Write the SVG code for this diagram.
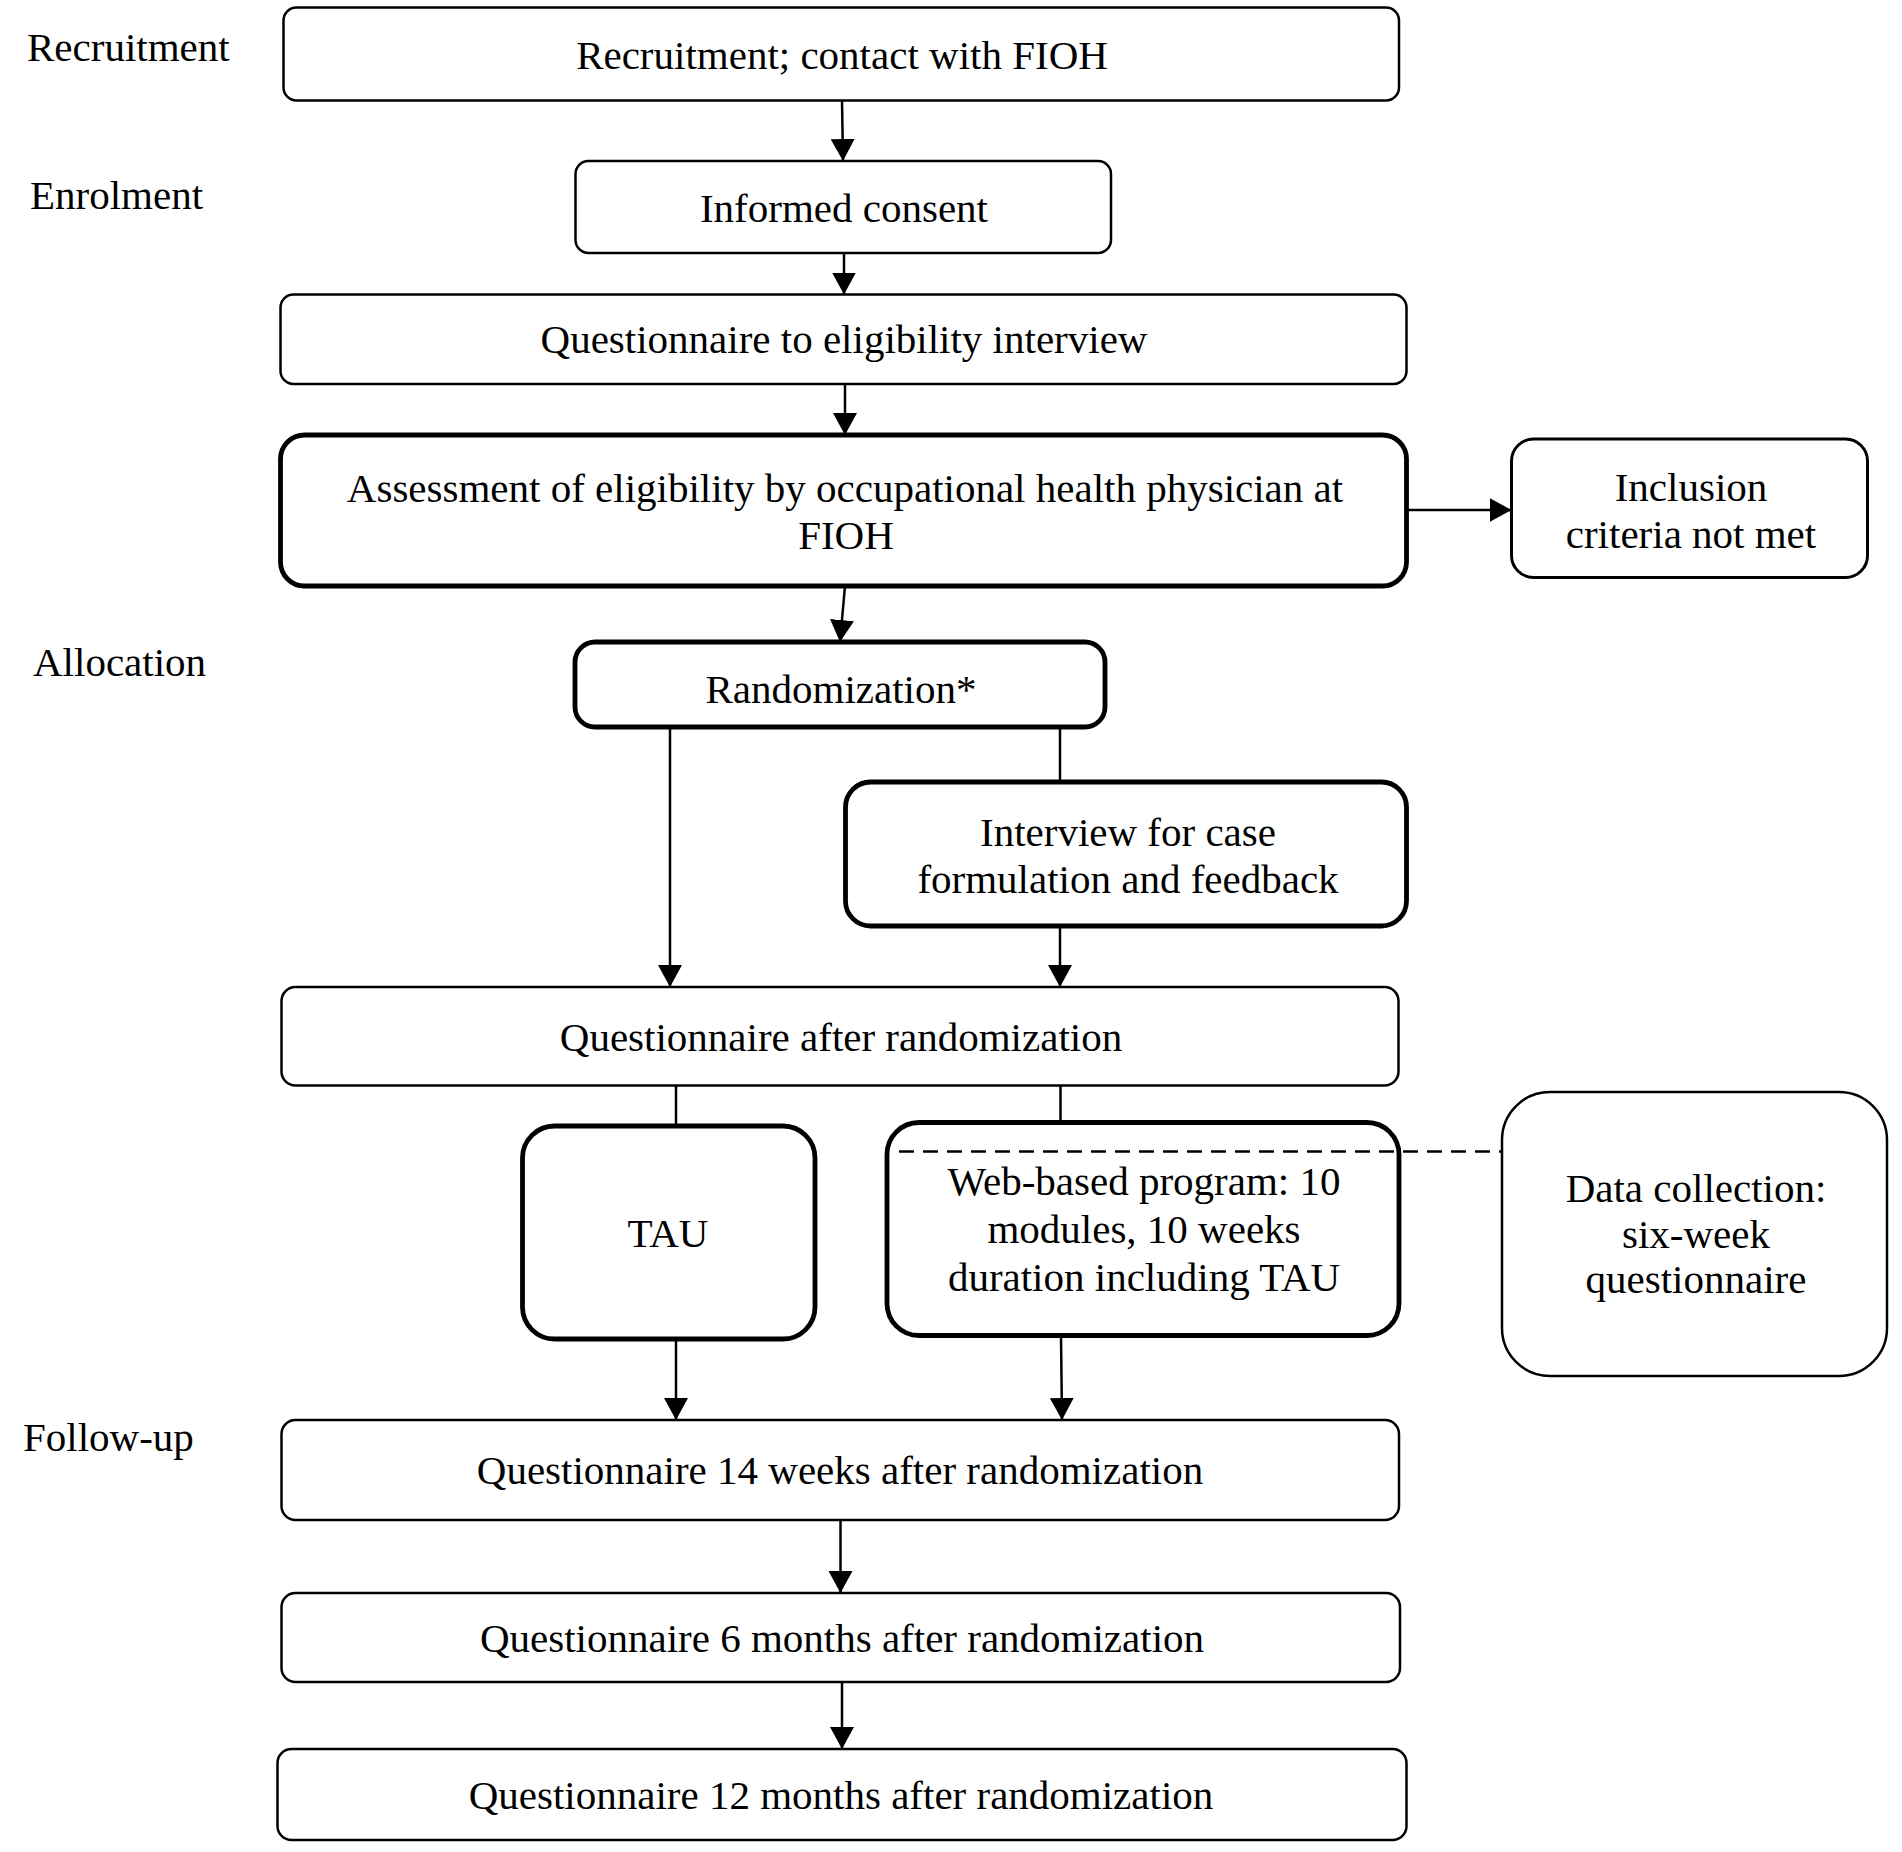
<svg xmlns="http://www.w3.org/2000/svg" width="1902" height="1852" viewBox="0 0 1902 1852">
<defs>
<marker id="arr" markerUnits="userSpaceOnUse" markerWidth="24" markerHeight="24" refX="22" refY="12" orient="auto">
<path d="M0,0 L22,12 L0,24 Z" fill="#000"/>
</marker>
<style>
.box{fill:#fff;stroke:#000;stroke-width:2.5}
.thick{fill:#fff;stroke:#000;stroke-width:4.8}
.t{font-family:"Liberation Serif","Times New Roman",serif;font-size:41px;fill:#000;text-anchor:middle}
.lab{font-family:"Liberation Serif","Times New Roman",serif;font-size:41px;fill:#000}
.c{fill:none;stroke:#000;stroke-width:2.5}
.arr{marker-end:url(#arr)}
.dash{fill:none;stroke:#000;stroke-width:2.5;stroke-dasharray:15 9}
</style>
</defs>
<rect width="1902" height="1852" fill="#fff"/>
<g id="labels">
<text class="lab" x="27" y="61">Recruitment</text>
<text class="lab" x="30" y="209">Enrolment</text>
<text class="lab" x="33" y="676">Allocation</text>
<text class="lab" x="23" y="1451">Follow-up</text>
</g>
<g id="connectors">
<line class="c arr" x1="842" y1="100.5" x2="843" y2="161"/>
<line class="c arr" x1="844" y1="253" x2="844" y2="294.5"/>
<line class="c arr" x1="845" y1="384" x2="845" y2="435"/>
<line class="c arr" x1="845" y1="586" x2="840" y2="642"/>
<line class="c arr" x1="1406.5" y1="510" x2="1511.5" y2="510"/>
<line class="c arr" x1="670" y1="727" x2="670" y2="987"/>
<line class="c" x1="1060" y1="727" x2="1060" y2="782"/>
<line class="c arr" x1="1060" y1="926" x2="1060" y2="987"/>
<line class="c" x1="676" y1="1085.5" x2="676" y2="1126"/>
<line class="c" x1="1060.5" y1="1085.5" x2="1060.5" y2="1122.5"/>
<line class="c arr" x1="676" y1="1339" x2="676" y2="1420"/>
<line class="c arr" x1="1061" y1="1335.5" x2="1062" y2="1420"/>
<line class="c arr" x1="840.5" y1="1520" x2="840.5" y2="1593"/>
<line class="c arr" x1="842" y1="1682" x2="842" y2="1749"/>
</g>
<g id="n-recruit"><rect class="box" x="283.5" y="7.5" width="1115.5" height="93" rx="13"/><text class="t" x="842" y="69">Recruitment; contact with FIOH</text></g>
<g id="n-consent"><rect class="box" x="575.5" y="161" width="535.5" height="92" rx="13"/><text class="t" x="844" y="222">Informed consent</text></g>
<g id="n-qelig"><rect class="box" x="280.5" y="294.5" width="1126" height="89.5" rx="13"/><text class="t" x="844" y="353">Questionnaire to eligibility interview</text></g>
<g id="n-assess"><rect class="thick" x="280.5" y="435" width="1126" height="151" rx="24"/><text class="t" x="845" y="502">Assessment of eligibility by occupational health physician at</text><text class="t" x="846" y="549">FIOH</text></g>
<g id="n-inclusion"><rect class="box" x="1511.5" y="439" width="356" height="138.5" rx="22" style="stroke-width:3"/><text class="t" x="1691" y="501">Inclusion</text><text class="t" x="1691" y="548">criteria not met</text></g>
<g id="n-random"><rect class="thick" x="575" y="642" width="530" height="85" rx="20"/><text class="t" x="841" y="703">Randomization*</text></g>
<g id="n-interview"><rect class="thick" x="845.5" y="782" width="561" height="144" rx="25"/><text class="t" x="1128" y="846">Interview for case</text><text class="t" x="1128" y="893">formulation and feedback</text></g>
<g id="n-qar"><rect class="box" x="281.5" y="987" width="1117" height="98.5" rx="14"/><text class="t" x="841" y="1051">Questionnaire after randomization</text></g>
<g id="n-tau"><rect class="thick" x="522.5" y="1126" width="292.5" height="213" rx="32"/><text class="t" x="668" y="1247">TAU</text></g>
<g id="n-web"><rect class="thick" x="887" y="1122.5" width="512" height="213" rx="32"/><text class="t" x="1144" y="1195">Web-based program: 10</text><text class="t" x="1144" y="1243">modules, 10 weeks</text><text class="t" x="1144" y="1291">duration including TAU</text></g>
<g id="n-data"><rect class="box" x="1502" y="1092" width="385" height="284" rx="48"/><text class="t" x="1696" y="1202">Data collection:</text><text class="t" x="1696" y="1248">six-week</text><text class="t" x="1696" y="1293">questionnaire</text></g>
<g id="dashed-link"><line class="dash" x1="899" y1="1151.5" x2="1502" y2="1151.5"/></g>
<g id="n-q14"><rect class="box" x="281.5" y="1420" width="1117.5" height="100" rx="14"/><text class="t" x="840" y="1484">Questionnaire 14 weeks after randomization</text></g>
<g id="n-q6"><rect class="box" x="281.5" y="1593" width="1118.5" height="89" rx="14"/><text class="t" x="842" y="1652">Questionnaire 6 months after randomization</text></g>
<g id="n-q12"><rect class="box" x="277.5" y="1749" width="1129" height="91" rx="14"/><text class="t" x="841" y="1809">Questionnaire 12 months after randomization</text></g>
</svg>
